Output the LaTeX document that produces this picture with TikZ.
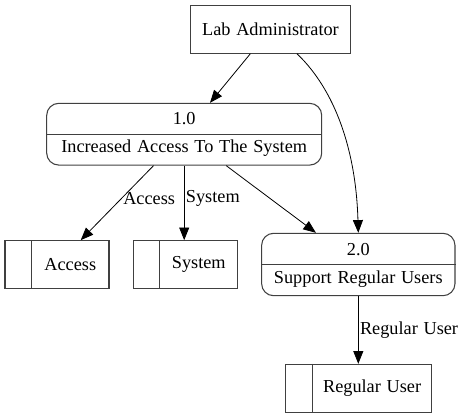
\documentclass[tikz,border=0pt]{standalone}
\usepackage{fontspec}
\setmainfont[WordSpace=1.25]{Liberation Serif}
\usetikzlibrary{arrows.meta,calc}
\begin{document}
\begin{tikzpicture}[x=0.75pt,y=-0.75pt,
  font=\fontsize{13.7}{16}\selectfont,
  entity/.style={draw=black!75,line width=0.8pt,rectangle,minimum width=119.5pt,minimum height=36pt,inner sep=0pt},
  procbox/.style={draw=black!75,line width=0.8pt,rectangle,rounded corners=9pt,inner sep=0pt},
  storebox/.style={draw=black!75,line width=0.8pt,rectangle,minimum height=35.7pt,inner sep=0pt},
  divider/.style={draw=black!75,line width=0.8pt},
  flow/.style={draw=black,line width=0.6pt,-{Triangle[length=9.5pt,width=7.5pt]}},
  flowlabel/.style={anchor=west,inner sep=1pt}]
\useasboundingbox (0,0) rectangle (461,419);
% external entity
\node[entity] (la) at (270.5,29.2) {Lab Administrator};
% processes
\node[procbox,minimum width=206.25pt,minimum height=46.3pt] (p1) at (184.2,134.2) {};
\draw[divider] (p1.west) -- (p1.east);
\node (p1n) at ($(p1.center)+(0,-16)$) {1.0};
\node (p1t) at ($(p1.center)+(0,14)$) {Increased Access To The System};
\node[procbox,minimum width=145pt,minimum height=46.8pt] (p2) at (358.3,264.5) {};
\draw[divider] (p2.west) -- (p2.east);
\node (p2n) at ($(p2.center)+(0,-15)$) {2.0};
\node (p2t) at ($(p2.center)+(0,15)$) {Support Regular Users};
% data stores
\node[storebox,minimum width=78pt] (acc) at (57,264.5) {};
\draw[divider] ($(acc.north west)+(26.7,0)$) -- ($(acc.south west)+(26.7,0)$);
\node (acct) at ($(acc.center)+(13.3,0)$) {Access};
\node[storebox,minimum width=78.3pt] (sys) at (185.5,264.5) {};
\draw[divider] ($(sys.north west)+(26.7,0)$) -- ($(sys.south west)+(26.7,0)$);
\node (syst) at ($(sys.center)+(13.3,0)$) {System};
\node[storebox,minimum width=109.3pt,minimum height=36pt] (ru) at (358.8,388.3) {};
\draw[divider] ($(ru.north west)+(26.7,0)$) -- ($(ru.south west)+(26.7,0)$);
\node (rut) at ($(ru.center)+(13.3,0)$) {Regular User};
% flows
\draw[flow] (la) -- (p1);
\draw[flow] (la.south -| 297,0) .. controls (335,90) and (356,150) .. (p2.north);
\draw[flow] (p1) -- (acc) node[flowlabel,pos=0.44] (lacc) {Access};
\draw[flow] (p1.south) -- (p1.south |- sys.north) node[flowlabel,pos=0.44] (lsys) {System};
\draw[flow] (p1) -- (p2);
\draw[flow] (p2.south) -- (p2.south |- ru.north) node[flowlabel,pos=0.5] (lru) {Regular User};
\end{tikzpicture}
\end{document}
